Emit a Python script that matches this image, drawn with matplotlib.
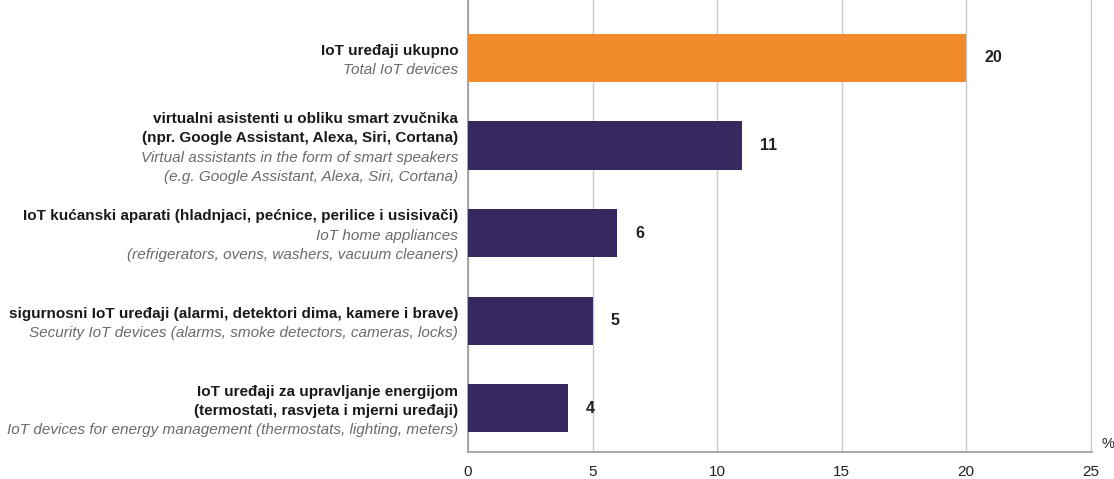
import matplotlib.pyplot as plt
from matplotlib import font_manager
import matplotlib.transforms as mtransforms

names = {f.name for f in font_manager.fontManager.ttflist}
fam = 'Liberation Sans Narrow' if 'Liberation Sans Narrow' in names else 'Liberation Sans'
plt.rcParams['font.family'] = [fam, 'DejaVu Sans']

# data
values = [20, 11, 6, 5, 4]
labels_hr = [
    ["IoT uređaji ukupno"],
    ["virtualni asistenti u obliku smart zvučnika",
     "(npr. Google Assistant, Alexa, Siri, Cortana)"],
    ["IoT kućanski aparati (hladnjaci, pećnice, perilice i usisivači)"],
    ["sigurnosni IoT uređaji (alarmi, detektori dima, kamere i brave)"],
    ["IoT uređaji za upravljanje energijom",
     "(termostati, rasvjeta i mjerni uređaji)"],
]
labels_en = [
    ["Total IoT devices"],
    ["Virtual assistants in the form of smart speakers",
     "(e.g. Google Assistant, Alexa, Siri, Cortana)"],
    ["IoT home appliances",
     "(refrigerators, ovens, washers, vacuum cleaners)"],
    ["Security IoT devices (alarms, smoke detectors, cameras, locks)"],
    ["IoT devices for energy management (thermostats, lighting, meters)"],
]
colors = ['#F08B2B', '#35295F', '#35295F', '#35295F', '#35295F']
xticks = [0, 5, 10, 15, 20, 25]

fig = plt.figure(figsize=(11.14, 4.79), dpi=100)
ax = fig.add_axes([468 / 1114, 27 / 479, (1092 - 468) / 1114, 452 / 479])

pos = list(range(len(values)))
ax.barh(pos, values, height=0.55, color=colors, zorder=3)
ax.set_ylim(4.5, -0.66)
ax.set_xlim(0, 25.05)
ax.set_xticks(xticks)
ax.set_yticks([])
ax.grid(axis='x', color='#c8c8c8', linewidth=1, zorder=0)
ax.tick_params(axis='x', length=0, pad=9, labelsize=11, colors='#222222')
for s in ['top', 'right']:
    ax.spines[s].set_visible(False)
for s in ['left', 'bottom']:
    ax.spines[s].set_color('#9a9a9a')
    ax.spines[s].set_linewidth(1.2)

for p, v in zip(pos, values):
    ax.annotate(str(v), (v, p), xytext=(13, 0), textcoords='offset points',
                va='center', ha='left', fontsize=11.5, fontweight='bold', color='#222222')

trans = mtransforms.blended_transform_factory(ax.transAxes, ax.transData)
step = 14
for p, hr, en in zip(pos, labels_hr, labels_en):
    lines = [(t, 'hr') for t in hr] + [(t, 'en') for t in en]
    n = len(lines)
    for i, (t, kind) in enumerate(lines):
        off = ((n - 1) / 2 - i) * step
        if kind == 'hr':
            kw = dict(fontweight='bold', color='#1a1a1a')
        else:
            kw = dict(fontstyle='italic', color='#6a6a6a')
        ax.annotate(t, (0, p), xycoords=trans, xytext=(-7, off - 2),
                    textcoords='offset points', ha='right', va='center',
                    fontsize=11, **kw)

ax.annotate('%', (1, 0), xycoords='axes fraction', xytext=(7, 1),
            textcoords='offset points', ha='left', va='bottom', fontsize=10.5, color='#222222')

fig.savefig('out.png', dpi=100)
